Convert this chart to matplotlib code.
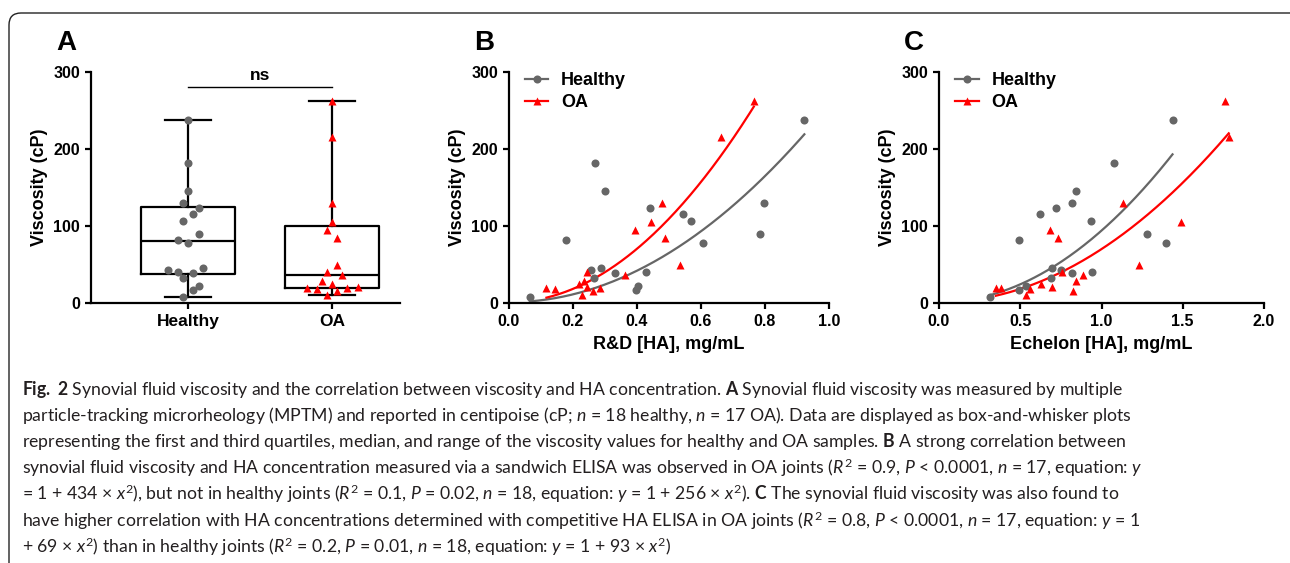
import numpy as np
import matplotlib
matplotlib.use("Agg")
import matplotlib.pyplot as plt
from matplotlib.lines import Line2D
from matplotlib.patches import FancyBboxPatch
from matplotlib.transforms import IdentityTransform

# ---- data ----
# healthy joints, one entry per sample
healthy_visc = [8, 82, 182, 145, 43, 32, 46, 39, 17, 22, 40, 123, 115, 107, 78, 89, 130, 238]
healthy_rd = [0.065, 0.179, 0.270, 0.299, 0.255, 0.266, 0.289, 0.331, 0.398, 0.404,
              0.428, 0.441, 0.544, 0.569, 0.605, 0.785, 0.796, 0.923]
healthy_ech = [0.311, 0.491, 1.075, 0.843, 0.749, 0.690, 0.694, 0.819, 0.495, 0.534,
               0.944, 0.719, 0.620, 0.933, 1.398, 1.277, 0.817, 1.437]
healthy_jit = [-0.035, -0.067, 0, 0, -0.137, -0.035, 0.106, 0.035, 0.035, 0.072,
               -0.067, 0.072, 0.035, -0.035, 0, 0.072, -0.035, 0]

# OA joints
oa_visc = [10, 16, 18, 19, 19.5, 21, 25, 28, 36, 40, 50, 84, 95, 105, 130, 216, 262]
oa_rd = [0.229, 0.262, 0.143, 0.117, 0.284, 0.245, 0.220, 0.233, 0.362, 0.245,
         0.533, 0.486, 0.393, 0.444, 0.477, 0.662, 0.765]
oa_ech = [0.534, 0.825, 0.557, 0.350, 0.383, 0.698, 0.628, 0.841, 0.886, 0.755,
          1.228, 0.733, 0.684, 1.492, 1.134, 1.783, 1.758]
oa_jit = [-0.035, 0.035, -0.106, -0.178, 0.104, 0.176, 0, -0.07, 0.07, -0.035,
          0.035, 0.035, -0.035, 0, 0, 0, 0]

# fitted y = a + b*x^2 (from caption)
fit_rd_healthy = (1, 256)
fit_rd_oa = (1, 434)
fit_ech_healthy = (1, 93)
fit_ech_oa = (1, 69)

groups = ["Healthy", "OA"]

GRAY = "#666666"
RED = "#ff0000"
W, H = 1290, 563

plt.rcParams["font.family"] = ["Liberation Sans", "DejaVu Sans"]
plt.rcParams["mathtext.fontset"] = "custom"
plt.rcParams["mathtext.rm"] = "Lato"
plt.rcParams["mathtext.it"] = "Lato:italic"
plt.rcParams["mathtext.bf"] = "Lato:bold"

fig = plt.figure(figsize=(W / 100, H / 100), dpi=100)


def axes_px(left, right, top, bottom):
    return fig.add_axes([left / W, 1 - bottom / H, (right - left) / W, (bottom - top) / H])


def style(ax):
    for s in ("top", "right"):
        ax.spines[s].set_visible(False)
    for s in ("left", "bottom"):
        ax.spines[s].set_linewidth(1.6)
    ax.tick_params(width=1.6, length=4.5, labelsize=11.5, direction="out")
    ax.set_ylim(0, 300)
    ax.set_yticks([0, 100, 200, 300])
    ax.set_ylabel("Viscosity (cP)", fontsize=13, fontweight="bold", labelpad=4)
    for t in ax.get_xticklabels() + ax.get_yticklabels():
        t.set_fontweight("bold")


# ---- panel A: box plot ----
axA = axes_px(91, 400, 72, 303)
stats = []
for i, vals in enumerate([healthy_visc, oa_visc]):
    v = np.asarray(vals, dtype=float)
    q1, med, q3 = np.percentile(v, [25, 50, 75], method="weibull")
    stats.append(dict(med=med, q1=q1, q3=q3, whislo=v.min(), whishi=v.max(),
                      fliers=[], label=groups[i]))
axA.bxp(stats, positions=[1, 2], widths=0.65, capwidths=0.32, showfliers=False,
        boxprops=dict(color="black", lw=1.6), whiskerprops=dict(color="black", lw=1.6),
        capprops=dict(color="black", lw=1.6), medianprops=dict(color="black", lw=1.6))
axA.plot(1 + np.array(healthy_jit), healthy_visc, "o", color=GRAY, ms=5.8, mec="none",
         clip_on=False, zorder=3)
axA.plot(2 + np.array(oa_jit), oa_visc, "^", color=RED, ms=6.4, mec="none",
         clip_on=False, zorder=3)
axA.set_xlim(0.326, 2.47)
style(axA)
axA.set_xticks([1, 2])
axA.set_xticklabels(groups, fontsize=12.5, fontweight="bold")
axA.plot([1, 2], [281, 281], color="black", lw=1.0, clip_on=False)
axA.text(1.5, 286, "ns", ha="center", va="bottom", fontsize=12.5, fontweight="bold")


# ---- panels B and C: viscosity vs HA ----
def scatter_panel(ax, xh, xo, fh, fo, xmax, xstep, xlabel):
    for xs, (a, b), c in [(xh, fh, GRAY), (xo, fo, RED)]:
        xx = np.linspace(min(xs), max(xs), 200)
        ax.plot(xx, a + b * xx ** 2, color=c, lw=1.6, zorder=2)
    ax.plot(xh, healthy_visc, "o", color=GRAY, ms=5.8, mec="none", clip_on=False, zorder=3)
    ax.plot(xo, oa_visc, "^", color=RED, ms=6.4, mec="none", clip_on=False, zorder=3)
    ax.set_xlim(0, xmax)
    ticks = np.arange(0, xmax + 1e-9, xstep)
    ax.set_xticks(ticks)
    ax.set_xticklabels([f"{t:.1f}" for t in ticks])
    style(ax)
    ax.set_xlabel(xlabel, fontsize=13, fontweight="bold", labelpad=5)
    handles = [Line2D([], [], color=GRAY, marker="o", ms=5.8, mec="none", lw=1.6),
               Line2D([], [], color=RED, marker="^", ms=6.4, mec="none", lw=1.6)]
    ax.legend(handles, groups, loc="upper left", bbox_to_anchor=(0.05, 1.0),
              frameon=False, borderpad=0, borderaxespad=0, handlelength=1.3,
              handletextpad=0.7, labelspacing=0.3, prop=dict(size=13, weight="bold"))


axB = axes_px(509, 829, 72, 303)
scatter_panel(axB, healthy_rd, oa_rd, fit_rd_healthy, fit_rd_oa, 1.0, 0.2, "R&D [HA], mg/mL")
axC = axes_px(939, 1264, 72, 303)
scatter_panel(axC, healthy_ech, oa_ech, fit_ech_healthy, fit_ech_oa, 2.0, 0.5,
              "Echelon [HA], mg/mL")

for lab, x in [("A", 56), ("B", 474), ("C", 904)]:
    fig.text(x / W, 1 - 43 / H, lab, fontsize=20, fontweight="bold", va="center", ha="left")

# ---- caption ----
caption = [
    r"$\mathbf{Fig.}$ $\mathbf{2}$ Synovial fluid viscosity and the correlation between viscosity and HA concentration. $\mathbf{A}$ Synovial fluid viscosity was measured by multiple",
    r"particle-tracking microrheology (MPTM) and reported in centipoise (cP; $n$ = 18 healthy, $n$ = 17 OA). Data are displayed as box-and-whisker plots",
    r"representing the first and third quartiles, median, and range of the viscosity values for healthy and OA samples. $\mathbf{B}$ A strong correlation between",
    r"synovial fluid viscosity and HA concentration measured via a sandwich ELISA was observed in OA joints ($R^2$ = 0.9, $P$ < 0.0001, $n$ = 17, equation: $y$",
    r"= 1 + 434 × $x^2$), but not in healthy joints ($R^2$ = 0.1, $P$ = 0.02, $n$ = 18, equation: $y$ = 1 + 256 × $x^2$). $\mathbf{C}$ The synovial fluid viscosity was also found to",
    r"have higher correlation with HA concentrations determined with competitive HA ELISA in OA joints ($R^2$ = 0.8, $P$ < 0.0001, $n$ = 17, equation: $y$ = 1",
    r"+ 69 × $x^2$) than in healthy joints ($R^2$ = 0.2, $P$ = 0.01, $n$ = 18, equation: $y$ = 1 + 93 × $x^2$)",
]
for i, line in enumerate(caption):
    fig.text(22 / W, 1 - (389 + i * 26.3) / H, line, fontsize=12.7, family="Lato",
             color="#231f20", va="center", ha="left")

# rounded frame round the whole figure
frame = FancyBboxPatch((9, -30), 1300, H - 13 + 30, boxstyle="round,pad=0,rounding_size=12",
                       transform=IdentityTransform(), fill=False, ec="#222222", lw=1.0)
fig.patches.append(frame)

fig.savefig("out.png", dpi=100)
